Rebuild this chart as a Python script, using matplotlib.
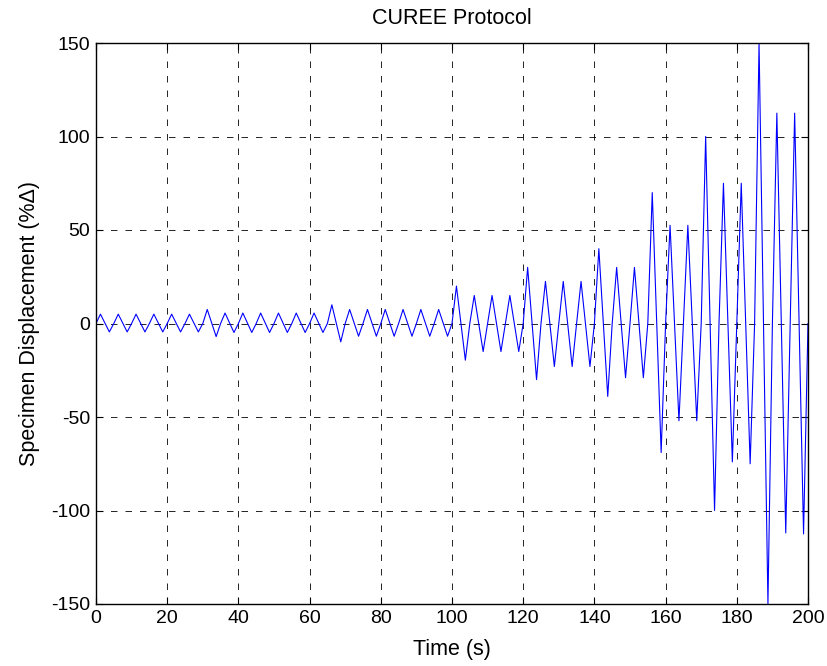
import numpy as np
import matplotlib
matplotlib.use('Agg')
import matplotlib.pyplot as plt

plt.rcParams['font.family'] = ['Liberation Sans', 'DejaVu Sans']
plt.rcParams['axes.unicode_minus'] = False

# CUREE loading history, one entry per 5 s cycle (values in % of Delta)
cycle_period = 5.0
pos_peak = [5, 5, 5, 5, 5, 5,
            7.5, 5.6, 5.6, 5.6, 5.6, 5.6, 5.6,
            10, 7.5, 7.5, 7.5, 7.5, 7.5, 7.5,
            20, 15, 15, 15,
            30, 22.5, 22.5, 22.5,
            40, 30, 30,
            70, 52.5, 52.5,
            100, 75, 75,
            150, 112.5, 112.5]
neg_peak = [-4.5, -4.5, -4.5, -4.5, -4.5, -4.5,
            -7, -4.8, -4.8, -4.8, -4.8, -4.8, -4.8,
            -9.8, -6.8, -6.8, -6.8, -6.8, -6.8, -6.8,
            -19.6, -15, -15, -15,
            -30, -23, -23, -23,
            -39, -29, -29,
            -69, -52, -52,
            -100, -74, -75,
            -150, -112, -112.5]
end_time = 200.0

t = []
d = []
for k in range(len(pos_peak)):
    t0 = k * cycle_period
    t += [t0, t0 + cycle_period / 4, t0 + 3 * cycle_period / 4]
    d += [0, pos_peak[k], neg_peak[k]]
t.append(end_time)
d.append(0)

fig = plt.figure(figsize=(8.28, 6.66), dpi=100)
ax = fig.add_axes([96/828, 1-604/666, 712/828, 561/666])
ax.plot(t, d, color=(0, 0, 1), lw=0.8)

ax.set_xlim(0, 200)
ax.set_ylim(-150, 150)
ax.set_xticks(np.arange(0, 201, 20))
ax.set_yticks(np.arange(-150, 151, 50))
ax.grid(True, color='k', linestyle=(0, (7.8, 9.6)), lw=0.6)
ax.tick_params(direction='in', top=True, right=True, labelsize=14, length=5, width=0.8, pad=4)
for s in ax.spines.values():
    s.set_linewidth(1.0)

ax.set_title('CUREE Protocol', fontsize=15.5, pad=14)
ax.set_xlabel('Time (s)', fontsize=15.5, labelpad=9)
ax.set_ylabel('Specimen Displacement (%Δ)', fontsize=15.5, labelpad=8)

plt.savefig('out.png', dpi=100)
